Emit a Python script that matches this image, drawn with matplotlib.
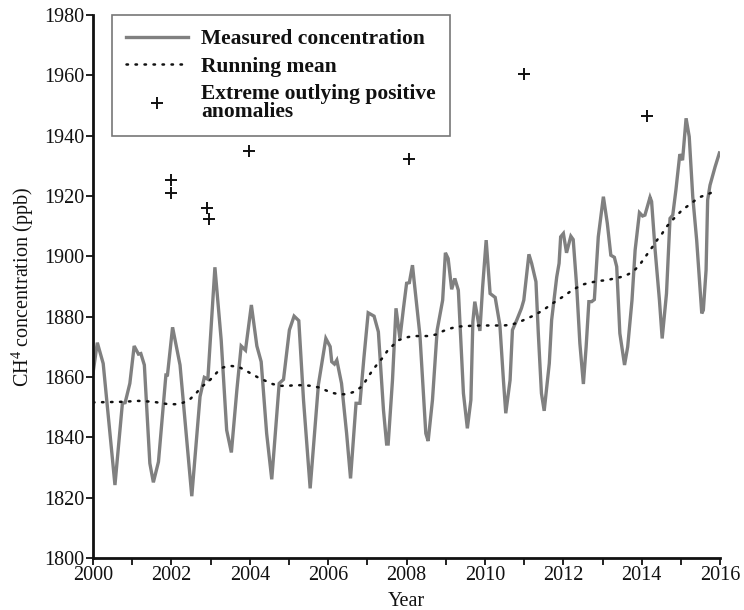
import matplotlib
matplotlib.use("Agg")
import matplotlib.pyplot as plt
import matplotlib.ticker
import numpy as np

plt.rcParams['font.family'] = ['Liberation Serif', 'DejaVu Serif']
plt.rcParams['mathtext.fontset'] = 'custom'
plt.rcParams['mathtext.rm'] = 'Liberation Serif'

# measured CH4 concentration, decimal year vs ppb
measured_year = [
    2000.00, 2000.11, 2000.26, 2000.56, 2000.75, 2000.82, 2000.94, 2001.05, 2001.16, 2001.22,
    2001.31, 2001.45, 2001.54, 2001.67, 2001.86, 2001.90, 2002.03, 2002.22, 2002.52, 2002.73,
    2002.84, 2002.93, 2003.11, 2003.27, 2003.41, 2003.53, 2003.67, 2003.78, 2003.89, 2004.04,
    2004.18, 2004.29, 2004.43, 2004.56, 2004.75, 2004.86, 2005.01, 2005.13, 2005.25, 2005.37,
    2005.54, 2005.75, 2005.94, 2006.05, 2006.09, 2006.16, 2006.22, 2006.34, 2006.47, 2006.57,
    2006.71, 2006.81, 2006.91, 2007.02, 2007.17, 2007.28, 2007.41, 2007.49, 2007.53, 2007.64,
    2007.73, 2007.83, 2007.92, 2008.00, 2008.07, 2008.15, 2008.19, 2008.34, 2008.49, 2008.55,
    2008.66, 2008.78, 2008.92, 2008.99, 2009.06, 2009.15, 2009.23, 2009.32, 2009.45, 2009.55,
    2009.64, 2009.69, 2009.74, 2009.83, 2009.87, 2009.94, 2010.03, 2010.13, 2010.26, 2010.38,
    2010.47, 2010.53, 2010.64, 2010.70, 2010.81, 2010.93, 2010.99, 2011.12, 2011.19, 2011.30,
    2011.36, 2011.44, 2011.51, 2011.64, 2011.70, 2011.83, 2011.89, 2011.93, 2012.00, 2012.08,
    2012.19, 2012.25, 2012.34, 2012.42, 2012.51, 2012.58, 2012.65, 2012.72, 2012.79, 2012.89,
    2013.02, 2013.12, 2013.21, 2013.30, 2013.36, 2013.44, 2013.56, 2013.64, 2013.75, 2013.83,
    2013.94, 2014.02, 2014.08, 2014.21, 2014.25, 2014.34, 2014.45, 2014.52, 2014.63, 2014.72,
    2014.79, 2014.87, 2014.97, 2015.04, 2015.13, 2015.21, 2015.30, 2015.40, 2015.53, 2015.57,
    2015.64, 2015.68, 2015.74, 2015.87, 2015.98,
]
measured_ppb = [
    1861.3, 1871.4, 1864.5, 1824.2, 1851.3, 1851.5, 1857.9, 1870.3, 1867.6, 1867.8,
    1864.0, 1831.4, 1825.1, 1831.9, 1860.7, 1860.7, 1876.5, 1864.0, 1820.5, 1853.5,
    1859.9, 1859.3, 1896.4, 1872.3, 1842.4, 1835.0, 1855.7, 1870.3, 1868.9, 1883.9,
    1870.3, 1865.1, 1841.3, 1826.1, 1857.9, 1859.2, 1875.6, 1880.2, 1878.7, 1852.4,
    1823.1, 1857.5, 1872.8, 1870.1, 1865.1, 1864.3, 1865.6, 1857.9, 1841.3, 1826.4,
    1851.3, 1851.3, 1866.2, 1881.3, 1880.2, 1875.0, 1849.1, 1837.8, 1837.8, 1859.0,
    1882.8, 1872.8, 1882.8, 1891.1, 1891.3, 1897.1, 1892.1, 1873.9, 1841.3, 1838.8,
    1852.4, 1875.6, 1885.5, 1901.2, 1899.3, 1889.1, 1892.7, 1888.8, 1854.6, 1843.0,
    1852.4, 1878.3, 1885.0, 1878.3, 1875.3, 1889.9, 1905.4, 1887.7, 1886.4, 1877.2,
    1859.0, 1848.0, 1859.0, 1875.6, 1878.9, 1882.8, 1885.5, 1900.7, 1897.7, 1891.6,
    1874.5, 1854.6, 1848.8, 1864.5, 1878.9, 1893.2, 1897.7, 1906.5, 1907.6, 1901.2,
    1906.7, 1905.6, 1889.9, 1871.2, 1857.7, 1870.0, 1885.0, 1885.0, 1885.7, 1906.5,
    1919.8, 1911.0, 1900.4, 1899.7, 1896.6, 1874.5, 1864.0, 1870.0, 1885.5, 1902.1,
    1914.5, 1913.4, 1913.7, 1919.6, 1918.2, 1902.1, 1885.5, 1872.8, 1887.7, 1912.6,
    1913.7, 1922.0, 1933.9, 1931.9, 1945.8, 1939.7, 1919.8, 1905.4, 1881.1, 1882.2,
    1895.5, 1918.7, 1923.6, 1929.7, 1934.3,
]

# running mean
mean_year = [
    2000.00, 2000.75, 2001.16, 2001.54, 2001.92, 2002.12, 2002.30, 2002.47, 2002.63, 2002.77,
    2002.94, 2003.16, 2003.32, 2003.51, 2003.71, 2003.88, 2004.05, 2004.22, 2004.39, 2004.58,
    2004.77, 2004.98, 2005.15, 2005.37, 2005.55, 2005.75, 2005.92, 2006.09, 2006.28, 2006.47,
    2006.66, 2006.83, 2006.94, 2007.05, 2007.17, 2007.29, 2007.41, 2007.52, 2007.66, 2007.81,
    2007.98, 2008.17, 2008.36, 2008.55, 2008.75, 2008.94, 2009.11, 2009.30, 2009.49, 2009.69,
    2009.87, 2010.07, 2010.27, 2010.47, 2010.66, 2010.85, 2011.02, 2011.21, 2011.38, 2011.55,
    2011.70, 2011.85, 2012.02, 2012.19, 2012.35, 2012.53, 2012.72, 2012.91, 2013.10, 2013.30,
    2013.48, 2013.66, 2013.82, 2013.95, 2014.06, 2014.18, 2014.29, 2014.40, 2014.52, 2014.63,
    2014.76, 2014.89, 2015.03, 2015.19, 2015.34, 2015.51, 2015.70, 2015.89,
]
mean_ppb = [
    1851.6, 1851.8, 1852.1, 1851.8, 1851.0, 1851.0, 1851.5, 1852.6, 1854.6, 1856.8,
    1858.4, 1861.5, 1863.2, 1863.7, 1863.4, 1862.3, 1861.0, 1859.8, 1858.8, 1857.7,
    1857.1, 1857.1, 1857.3, 1857.3, 1857.1, 1856.6, 1855.7, 1854.8, 1854.3, 1854.3,
    1855.1, 1856.6, 1858.4, 1860.7, 1862.9, 1864.9, 1866.7, 1868.9, 1870.6, 1872.3,
    1873.1, 1873.6, 1873.6, 1873.6, 1874.1, 1875.3, 1876.1, 1876.7, 1876.9, 1877.0,
    1877.1, 1877.1, 1877.1, 1877.1, 1877.3, 1878.1, 1879.1, 1880.2, 1881.4, 1882.8,
    1884.2, 1885.5, 1886.9, 1888.5, 1889.7, 1890.8, 1891.4, 1891.9, 1892.1, 1892.7,
    1893.2, 1894.1, 1895.5, 1897.3, 1899.3, 1901.5, 1903.5, 1905.6, 1907.6, 1909.8,
    1911.8, 1913.5, 1915.4, 1916.9, 1918.4, 1919.8, 1920.7, 1921.8,
]

# extreme outlying positive anomalies
outlier_year = [2001.99, 2001.99, 2002.90, 2002.97, 2003.99, 2008.07, 2010.99, 2014.13]
outlier_ppb = [1925.3, 1921.1, 1916.1, 1912.4, 1935.0, 1932.2, 1960.4, 1946.6]

fig = plt.figure(figsize=(7.44, 6.10), dpi=100)
ax = fig.add_axes([0.125, 0.0852, 0.843, 0.890])

ax.plot(measured_year, measured_ppb, color='#808080', lw=2.4,
        solid_joinstyle='miter', label='Measured concentration')
ax.plot(mean_year, mean_ppb, color='#111111', lw=1.8, dashes=(0.6, 3.0),
        dash_capstyle='round', label='Running mean')
ax.plot(outlier_year, outlier_ppb, ls='none', marker='+', ms=9, mew=1.4,
        color='#111111', label='Extreme outlying positive\nanomalies')

ax.set_xlim(2000, 2016)
ax.set_ylim(1800, 1980)
ax.xaxis.set_major_locator(matplotlib.ticker.MultipleLocator(2))
ax.xaxis.set_minor_locator(matplotlib.ticker.MultipleLocator(1))
ax.yaxis.set_major_locator(matplotlib.ticker.MultipleLocator(20))

for side in ['top', 'right']:
    ax.spines[side].set_visible(False)
for side in ['left', 'bottom']:
    ax.spines[side].set_linewidth(2.0)
    ax.spines[side].set_color('#111111')

ax.tick_params(axis='both', which='both', direction='out', length=5, width=1.3,
               color='#111111', labelsize=14.5, labelcolor='#111111', pad=1)

ax.set_xlabel('Year', fontsize=14.5, color='#111111')
ax.xaxis.set_label_coords(0.5, -0.062)
ax.set_ylabel(r'CH$^4$ concentration (ppb)', fontsize=14.5, labelpad=6, color='#111111')

leg = ax.legend(loc='upper left', bbox_to_anchor=(0.03, 1.0), borderaxespad=0,
                prop={'size': 15.5, 'weight': 'bold'}, frameon=True, fancybox=False,
                handlelength=2.9, handletextpad=0.6, labelspacing=0.35, borderpad=0.65)
leg.get_frame().set_edgecolor('#555555')
leg.get_frame().set_linewidth(1.2)
for t in leg.get_texts():
    t.set_color('#111111')
    t.set_linespacing(0.85)

fig.savefig('out.png', dpi=100)
